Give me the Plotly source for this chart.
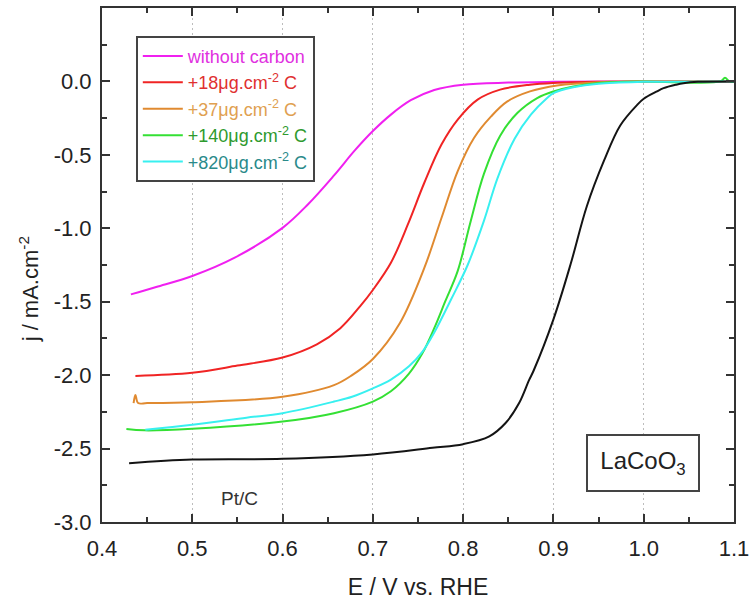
import plotly.graph_objects as go

# Linear sweep voltammetry (ORR) of LaCoO3 with different carbon loadings, plus Pt/C
E_no_c = [0.432, 0.46, 0.50, 0.547, 0.60, 0.628, 0.657, 0.68, 0.70, 0.72, 0.742, 0.768, 0.80, 0.85, 0.90, 1.0, 1.10]
j_no_c = [-1.45, -1.40, -1.325, -1.20, -0.997, -0.838, -0.640, -0.47, -0.338, -0.226, -0.128, -0.058, -0.022, -0.008, -0.003, 0.0, 0.0]

E_c18 = [0.437, 0.50, 0.55, 0.60, 0.638, 0.664, 0.686, 0.70, 0.72, 0.739, 0.757, 0.776, 0.794, 0.816, 0.841, 0.874, 0.90, 0.95, 1.10]
j_c18 = [-2.005, -1.984, -1.935, -1.88, -1.79, -1.68, -1.53, -1.42, -1.235, -0.97, -0.69, -0.43, -0.26, -0.124, -0.056, -0.022, -0.01, -0.002, 0.0]

E_c37 = [0.435, 0.437, 0.440, 0.45, 0.50, 0.60, 0.657, 0.677, 0.70, 0.73, 0.757, 0.776, 0.794, 0.812, 0.831, 0.849, 0.874, 0.904, 0.95, 1.10]
j_c37 = [-2.19, -2.135, -2.19, -2.19, -2.184, -2.147, -2.068, -2.0, -1.89, -1.645, -1.27, -0.93, -0.61, -0.385, -0.238, -0.136, -0.068, -0.027, -0.005, 0.0]

E_c140 = [0.427, 0.447, 0.50, 0.60, 0.657, 0.70, 0.72, 0.74, 0.755, 0.768, 0.78, 0.794, 0.808, 0.823, 0.841, 0.86, 0.882, 0.90, 0.922, 0.95, 1.0, 1.085, 1.09, 1.095, 1.10]
j_c140 = [-2.367, -2.376, -2.365, -2.316, -2.259, -2.18, -2.11, -1.99, -1.85, -1.68, -1.50, -1.29, -0.96, -0.63, -0.37, -0.215, -0.113, -0.068, -0.034, -0.01, 0.0, 0.0, 0.025, 0.0, 0.0]

E_c820 = [0.448, 0.50, 0.56, 0.60, 0.657, 0.677, 0.70, 0.72, 0.74, 0.755, 0.768, 0.787, 0.805, 0.823, 0.838, 0.857, 0.875, 0.893, 0.90, 0.922, 0.95, 1.0, 1.10]
j_c820 = [-2.372, -2.338, -2.29, -2.259, -2.18, -2.147, -2.09, -2.03, -1.94, -1.84, -1.71, -1.48, -1.25, -0.95, -0.66, -0.39, -0.226, -0.113, -0.08, -0.04, -0.015, -0.003, 0.0]

E_ptc = [0.43, 0.50, 0.60, 0.70, 0.766, 0.80, 0.829, 0.847, 0.862, 0.873, 0.878, 0.90, 0.919, 0.937, 0.956, 0.974, 0.993, 1.0, 1.014, 1.022, 1.036, 1.044, 1.06, 1.10]
j_ptc = [-2.60, -2.575, -2.57, -2.54, -2.495, -2.47, -2.417, -2.326, -2.19, -2.034, -1.97, -1.62, -1.245, -0.85, -0.54, -0.30, -0.158, -0.118, -0.07, -0.046, -0.022, -0.012, -0.003, 0.0]

series = [
    ("without carbon", E_no_c, j_no_c, "#f020f0", "#e030e0"),
    ("+18μg.cm<sup>-2</sup> C", E_c18, j_c18, "#f02424", "#e03030"),
    ("+37μg.cm<sup>-2</sup> C", E_c37, j_c37, "#e08a30", "#e0a050"),
    ("+140μg.cm<sup>-2</sup> C", E_c140, j_c140, "#34e034", "#2e9a2e"),
    ("+820μg.cm<sup>-2</sup> C", E_c820, j_c820, "#38f0f0", "#2a8a8a"),
]

x_ticks = [0.4, 0.5, 0.6, 0.7, 0.8, 0.9, 1.0, 1.1]
x_ticktext = ["0.4", "0.5", "0.6", "0.7", "0.8", "0.9", "1.0", "1.1"]
y_ticks = [-3.0, -2.5, -2.0, -1.5, -1.0, -0.5, 0.0]
y_ticktext = ["-3.0", "-2.5", "-2.0", "-1.5", "-1.0", "-0.5", "0.0"]
y_minor = [-2.75, -2.25, -1.75, -1.25, -0.75, -0.25, 0.25]
x_minor = [0.45, 0.55, 0.65, 0.75, 0.85, 0.95, 1.05]

FONT = "Liberation Sans, Arial, sans-serif"
AX = "#333333"

fig = go.Figure()
for name, xs, ys, line_color, text_color in series:
    fig.add_trace(go.Scatter(
        x=xs, y=ys, mode="lines",
        name=f'<span style="color:{text_color}">{name}</span>',
        line=dict(color=line_color, width=2, shape="spline", smoothing=1.0),
    ))

fig.add_trace(go.Scatter(
    x=E_ptc, y=j_ptc, mode="lines", name="Pt/C", showlegend=False,
    line=dict(color="#141414", width=2, shape="spline", smoothing=1.0),
))

axis_common = dict(
    showline=True, linecolor=AX, linewidth=2, mirror="ticks",
    ticks="inside", ticklen=8, tickwidth=1.5, tickcolor=AX,
    tickfont=dict(family=FONT, size=22, color="#222222"),
    zeroline=False,
)

fig.update_xaxes(
    range=[0.4, 1.1], tickmode="array", tickvals=x_ticks, ticktext=x_ticktext,
    showgrid=True, gridcolor="#bdbdbd", gridwidth=1, griddash="2px,3px",
    minor=dict(tickmode="array", tickvals=x_minor, ticks="inside", ticklen=5, tickcolor=AX, showgrid=False),
    ticklabelstandoff=6,
    title=dict(text="E / V vs. RHE", font=dict(family=FONT, size=23, color="#222222"), standoff=18),
    **axis_common,
)
fig.update_yaxes(
    range=[-3.0, 0.5], tickmode="array", tickvals=y_ticks, ticktext=y_ticktext,
    showgrid=False,
    minor=dict(tickmode="array", tickvals=y_minor, ticks="inside", ticklen=5, tickcolor=AX, showgrid=False),
    ticklabelstandoff=4,
    **axis_common,
)

fig.add_annotation(
    text="j / mA.cm<sup>-2</sup>", textangle=-90, xref="paper", yref="paper",
    x=-0.116, y=0.452, xanchor="center", yanchor="middle", showarrow=False,
    font=dict(family=FONT, size=22, color="#222222"),
)
fig.add_annotation(
    text="Pt/C", x=0.552, y=-2.84, showarrow=False,
    font=dict(family=FONT, size=19, color="#333333"),
)
fig.add_annotation(
    text="LaCoO<sub>3</sub>", x=0.9995, y=-2.6, showarrow=False,
    font=dict(family=FONT, size=24, color="#222222"),
    bordercolor="#444444", borderwidth=2, borderpad=4, width=102, height=46,
    bgcolor="white",
)

fig.update_layout(
    width=755, height=606,
    margin=dict(l=102, r=17, t=6, b=84),
    paper_bgcolor="white", plot_bgcolor="white",
    font=dict(family=FONT),
    legend=dict(
        x=0.0535, y=0.946, xanchor="left", yanchor="top",
        bordercolor="#444444", borderwidth=2, bgcolor="white",
        font=dict(family=FONT, size=18),
        itemwidth=40,
    ),
)

fig.write_html("out.html")
